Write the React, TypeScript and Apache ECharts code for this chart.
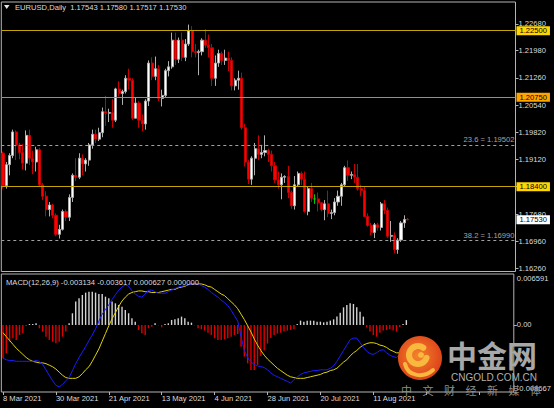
import React, { useEffect, useRef } from "react";
import * as echarts from "echarts";

// ---------- data ----------
const SYMBOL = "EURUSD,Daily";
const MONTHS = ["Jan", "Feb", "Mar", "Apr", "May", "Jun", "Jul", "Aug", "Sep", "Oct", "Nov", "Dec"];

const open = [
  1.1928, 1.1843, 1.1898, 1.1922, 1.1984, 1.195, 1.193, 1.1902, 1.1975, 1.1915,
  1.1905, 1.1937, 1.1845, 1.1815, 1.178, 1.1792, 1.1765, 1.1715, 1.1728, 1.1775,
  1.176, 1.1812, 1.187, 1.1865, 1.1915, 1.19, 1.191, 1.195, 1.1978, 1.1965,
  1.1982, 1.2037, 1.2033, 1.2035, 1.2015, 1.2097, 1.2085, 1.209, 1.2125, 1.212,
  1.202, 1.206, 1.2015, 1.2005, 1.2065, 1.2165, 1.213, 1.215, 1.2072, 1.208,
  1.2145, 1.2155, 1.2225, 1.2175, 1.2225, 1.218, 1.2215, 1.225, 1.2195, 1.2193,
  1.2195, 1.2225, 1.2212, 1.2205, 1.2125, 1.2165, 1.219, 1.2172, 1.2178, 1.2172,
  1.2105, 1.212, 1.2125, 1.1995, 1.1905, 1.186, 1.1915, 1.194, 1.1925, 1.193,
  1.1935, 1.1925, 1.1895, 1.1858, 1.1845, 1.1865, 1.1867, 1.1825, 1.179, 1.1845,
  1.1875, 1.186, 1.1775, 1.1835, 1.1808, 1.1808, 1.1798, 1.178, 1.1795, 1.177,
  1.1772, 1.18, 1.1815, 1.1845, 1.189, 1.187, 1.1872, 1.1865, 1.1835, 1.183,
  1.1762, 1.1738, 1.172, 1.174, 1.1733, 1.1795, 1.1778, 1.171, 1.1712, 1.1675,
  1.17, 1.1745, 1.17543,
];
const high = [
  1.1932, 1.1905, 1.1928, 1.199, 1.1988, 1.1955, 1.1952, 1.1988, 1.199, 1.1935,
  1.1945, 1.1942, 1.185, 1.1828, 1.18, 1.1795, 1.177, 1.174, 1.178, 1.178,
  1.182, 1.1875, 1.1915, 1.1928, 1.1925, 1.1915, 1.1955, 1.199, 1.199, 1.1995,
  1.2048, 1.2079, 1.2045, 1.207, 1.21, 1.2117, 1.2095, 1.2133, 1.215, 1.2125,
  1.2075, 1.2065, 1.203, 1.207, 1.2172, 1.218, 1.2182, 1.216, 1.2095, 1.215,
  1.217, 1.2245, 1.2245, 1.2232, 1.2245, 1.2228, 1.2266, 1.2262, 1.2215, 1.22,
  1.223, 1.2254, 1.224, 1.2215, 1.2185, 1.22, 1.2195, 1.22, 1.2195, 1.218,
  1.2125, 1.2145, 1.214, 1.2005, 1.191, 1.192, 1.1955, 1.1975, 1.195, 1.1975,
  1.194, 1.1935, 1.1905, 1.188, 1.1875, 1.187, 1.1895, 1.183, 1.1868, 1.188,
  1.188, 1.188, 1.184, 1.185, 1.182, 1.1825, 1.18, 1.1805, 1.183, 1.178,
  1.181, 1.183, 1.185, 1.1895, 1.1909, 1.188, 1.19, 1.19, 1.1845, 1.184,
  1.177, 1.1745, 1.1745, 1.1745, 1.18, 1.1805, 1.1785, 1.175, 1.172, 1.1705,
  1.175, 1.1765, 1.1758,
];
const low = [
  1.1835, 1.1835, 1.187, 1.1915, 1.191, 1.1912, 1.1885, 1.1883, 1.1897, 1.1873,
  1.188, 1.184, 1.1805, 1.1762, 1.1762, 1.1757, 1.171, 1.1704, 1.1725, 1.175,
  1.175, 1.18, 1.1855, 1.186, 1.187, 1.188, 1.1895, 1.194, 1.1955, 1.196,
  1.197, 1.2, 1.201, 1.1995, 1.201, 1.2077, 1.2055, 1.2085, 1.2095, 1.2015,
  1.202, 1.1995, 1.1986, 1.199, 1.2052, 1.212, 1.212, 1.2065, 1.2051, 1.2075,
  1.213, 1.215, 1.216, 1.2165, 1.217, 1.217, 1.221, 1.218, 1.218, 1.2133,
  1.2185, 1.2205, 1.218, 1.2105, 1.2105, 1.2155, 1.216, 1.216, 1.2144, 1.2093,
  1.2093, 1.2095, 1.199, 1.1893, 1.1847, 1.1845, 1.187, 1.191, 1.1915, 1.192,
  1.1905, 1.188, 1.185, 1.1835, 1.1807, 1.185, 1.181, 1.1782, 1.178, 1.184,
  1.1845, 1.1772, 1.1765, 1.18, 1.1795, 1.1775, 1.1775, 1.1752, 1.176, 1.1755,
  1.1765, 1.179, 1.179, 1.184, 1.1855, 1.186, 1.185, 1.183, 1.1815, 1.176,
  1.1735, 1.1712, 1.1705, 1.1725, 1.1725, 1.1768, 1.1705, 1.1695, 1.1665, 1.1664,
  1.1695, 1.1732, 1.17517,
];
const close = [
  1.1843, 1.1898, 1.1922, 1.1984, 1.195, 1.193, 1.1902, 1.1975, 1.1915, 1.1905,
  1.1937, 1.1845, 1.1815, 1.178, 1.1792, 1.1765, 1.1715, 1.1728, 1.1775, 1.176,
  1.1812, 1.187, 1.1865, 1.1915, 1.19, 1.191, 1.195, 1.1978, 1.1965, 1.1982,
  1.2037, 1.2033, 1.2035, 1.2015, 1.2097, 1.2085, 1.209, 1.2125, 1.212, 1.202,
  1.206, 1.2015, 1.2005, 1.2065, 1.2165, 1.213, 1.215, 1.2072, 1.208, 1.2145,
  1.2155, 1.2225, 1.2175, 1.2225, 1.218, 1.2215, 1.225, 1.2195, 1.2193, 1.2195,
  1.2225, 1.2212, 1.2205, 1.2125, 1.2165, 1.219, 1.2172, 1.2178, 1.2172, 1.2105,
  1.212, 1.2125, 1.1995, 1.1905, 1.186, 1.1915, 1.194, 1.1925, 1.193, 1.1935,
  1.1925, 1.1895, 1.1858, 1.1845, 1.1865, 1.1867, 1.1825, 1.179, 1.1845, 1.1875,
  1.186, 1.1775, 1.1835, 1.181, 1.1808, 1.1798, 1.178, 1.1795, 1.177, 1.1772,
  1.18, 1.1815, 1.1845, 1.189, 1.187, 1.1872, 1.1865, 1.1835, 1.183, 1.1762,
  1.1738, 1.172, 1.174, 1.1733, 1.1795, 1.1778, 1.171, 1.1712, 1.1675, 1.17,
  1.1745, 1.1754, 1.1753,
];
const dojiIndex = [94];

const macdMain = [
  -0.0043, -0.0045, -0.0046, -0.0046, -0.0047, -0.0047, -0.0047, -0.0047, -0.0047, -0.0047,
  -0.0046, -0.0047, -0.0051, -0.0058, -0.0065, -0.0072, -0.0078, -0.008, -0.0077, -0.0072,
  -0.0068, -0.0059, -0.005, -0.0042, -0.0035, -0.0028, -0.002, -0.0013, -0.0005, 0.0005,
  0.0014, 0.002, 0.0026, 0.0033, 0.0039, 0.0045, 0.0049, 0.0052, 0.005, 0.0044,
  0.004, 0.0037, 0.0036, 0.004, 0.0045, 0.0045, 0.0043, 0.0041, 0.0041, 0.0041,
  0.0043, 0.0045, 0.0047, 0.0049, 0.005, 0.0051, 0.0052, 0.0053, 0.0053, 0.0053,
  0.0051, 0.0049, 0.0046, 0.0042, 0.0039, 0.0036, 0.0032, 0.0029, 0.0025, 0.0019,
  0.0012, 0.0005, -0.0015, -0.0033, -0.0042, -0.0048, -0.0051, -0.0053, -0.0054, -0.0055,
  -0.0058, -0.0062, -0.0065, -0.0067, -0.0069, -0.0071, -0.0073, -0.0075, -0.0071, -0.0067,
  -0.0064, -0.0062, -0.0061, -0.006, -0.0059, -0.0059, -0.0058, -0.0058, -0.0058, -0.0056,
  -0.0053, -0.0047, -0.004, -0.0033, -0.0026, -0.0019, -0.0017, -0.0017, -0.0023, -0.0029,
  -0.0034, -0.0037, -0.0038, -0.0036, -0.0033, -0.0032, -0.0036, -0.0039, -0.0041, -0.0042,
  -0.0038, -0.0034, -0.003134,
];
const macdSignal = [
  -0.001, -0.0015, -0.002, -0.0025, -0.003, -0.0034, -0.0038, -0.0042, -0.0045, -0.0047,
  -0.0048, -0.0049, -0.0049, -0.005, -0.0052, -0.0054, -0.0057, -0.0061, -0.0065, -0.0068,
  -0.0069, -0.0069, -0.0069, -0.0067, -0.0063, -0.0058, -0.0054, -0.0047, -0.0039, -0.0031,
  -0.0021, -0.0011, -0.0001, 0.0008, 0.0016, 0.0024, 0.0031, 0.0036, 0.004, 0.0042,
  0.0043, 0.0044, 0.0044, 0.0043, 0.0043, 0.0042, 0.0042, 0.0042, 0.0043, 0.0044,
  0.0045, 0.0046, 0.0046, 0.0048, 0.0049, 0.005, 0.0052, 0.0053, 0.0053, 0.0053,
  0.0053, 0.0052, 0.005, 0.0049, 0.0046, 0.0043, 0.004, 0.0038, 0.0034, 0.003,
  0.0026, 0.0021, 0.0014, 0.0007, -0.0001, -0.0009, -0.0018, -0.0026, -0.0033, -0.0039,
  -0.0044, -0.0048, -0.0052, -0.0056, -0.0059, -0.0062, -0.0065, -0.0067, -0.0068, -0.0069,
  -0.0069, -0.0069, -0.0068, -0.0067, -0.0066, -0.0065, -0.0064, -0.0062, -0.0061, -0.0059,
  -0.0058, -0.0056, -0.0052, -0.0048, -0.0045, -0.004, -0.0036, -0.0033, -0.0029, -0.0026,
  -0.0024, -0.0023, -0.0023, -0.0024, -0.0026, -0.0027, -0.0029, -0.0032, -0.0034, -0.0036,
  -0.0036, -0.0036, -0.003617,
];
const macdHist = [
  -0.00431, -0.00366, -0.00216, -0.00172, -0.00194, -0.00129, -0.00108, -0.00013, 0.00013, 0.00013,
  0.00022, -0.00043, -0.00086, -0.00151, -0.00194, -0.00216, -0.00237, -0.00216, -0.00151, -0.00086,
  0.00022, 0.00151, 0.00302, 0.00345, 0.00388, 0.00418, 0.00431, 0.00431, 0.00418, 0.00401,
  0.00401, 0.00366, 0.00345, 0.00302, 0.0028, 0.00259, 0.00237, 0.00194, 0.00151, 0.00086,
  0.00043, -0.00065, -0.00108, -0.00129, -0.00043, -0.00022, 0.00022, -0.00005, -0.0003, 0.00013,
  0.00022, 0.00065, 0.00073, 0.00086, 0.00108, 0.00086, 0.00043, 0.0003, -0.00004, -0.00043,
  -0.00056, -0.00073, -0.00099, -0.00129, -0.00172, -0.00194, -0.00194, -0.00185, -0.00172, -0.00151,
  -0.00129, -0.00116, -0.0028, -0.00409, -0.00496, -0.00582, -0.00582, -0.00517, -0.004, -0.0033,
  -0.0024, -0.0017, -0.0013, -0.0011, -0.00099, -0.00086, -0.00073, -0.00065, -0.00056, 0.00013,
  0.00056, 0.00043, 0.00056, 0.00056, 0.00056, 0.00043, 0.00043, 0.00034, 0.00043, 0.00056,
  0.00073, 0.00108, 0.00159, 0.00228, 0.00259, 0.0028, 0.00272, 0.00228, 0.00172, 0.00108,
  -0.0003, -0.00086, -0.00129, -0.00151, -0.00099, -0.00073, -0.00065, -0.00056, -0.00073, -0.00086,
  -0.0003, 0.00013, 0.000627,
];
const macdExtra = 0.0;

const priceTicks = [1.1626, 1.1696, 1.1768, 1.184, 1.1912, 1.1982, 1.2054, 1.2126, 1.2198, 1.2268];
const priceMin = 1.16173;
const priceMax = 1.23254;
const macdMin = -0.008667;
const macdMax = 0.006591;
const keyLevels = [1.225, 1.2075, 1.184];
const fibLevels = [1.19502, 1.1699];
const fibNames = ["23.6", "38.2"];
const wmChars = ["中", "文", "财", "经", "新", "媒", "体"];

const TOTAL_SLOTS = 155;
const LABEL_STEP = 16;
const LAST = open.length - 1;

function tradingDays(count: number): string[] {
  const out: string[] = [];
  const d = new Date(Date.UTC(2021, 2, 8));
  while (out.length < count) {
    const wd = d.getUTCDay();
    if (wd !== 0 && wd !== 6) {
      out.push(`${d.getUTCDate()} ${MONTHS[d.getUTCMonth()]} ${d.getUTCFullYear()}`);
    }
    d.setUTCDate(d.getUTCDate() + 1);
  }
  return out;
}
const categories = tradingDays(TOTAL_SLOTS);

// ---------- styles ----------
const FONT = "Liberation Sans";
const FS = 7.6;
const TXT = "#dcdcdc";
const FRAME = "#b4b4b4";
const levelLine = ["#c4a400", "#cf8a0c", "#c4a400"];
const levelBox = ["#ffd700", "#ffa500", "#ffd700"];

function buildOption(): any {
  const candleData = open.map((o, i) => {
    const v = [o, close[i], low[i], high[i]];
    if (dojiIndex.includes(i)) {
      return { value: v, itemStyle: { color: "#00d000", color0: "#00d000", borderColor: "#00d000", borderColor0: "#00d000" } };
    }
    return v;
  });

  const markData: any[] = [];
  keyLevels.forEach((lv, k) => {
    markData.push({
      yAxis: lv,
      lineStyle: { color: levelLine[k], type: "solid", width: 1 },
      label: {
        show: true,
        position: "end",
        distance: 1,
        formatter: () => lv.toFixed(5),
        backgroundColor: levelBox[k],
        color: "#000",
        padding: [1, 3, 0, 3],
        fontSize: FS,
        fontFamily: FONT,
      },
    });
  });
  fibLevels.forEach((lv, k) => {
    markData.push({
      yAxis: lv,
      lineStyle: { color: "#a0a0a0", type: [3, 3], width: 1 },
      label: {
        show: true,
        position: "insideEndTop",
        distance: 1,
        formatter: () => `${fibNames[k]} = ${lv.toFixed(5)}`,
        color: "#a4a4a4",
        fontSize: FS,
        fontFamily: FONT,
      },
    });
  });
  markData.push({
    yAxis: close[LAST],
    lineStyle: { color: "rgba(0,0,0,0)", width: 0 },
    label: {
      show: true,
      position: "end",
      distance: 1,
      formatter: () => close[LAST].toFixed(5),
      backgroundColor: "#ffffff",
      color: "#000",
      padding: [1, 3, 0, 3],
      fontSize: FS,
      fontFamily: FONT,
    },
  });

  const titleText = `${SYMBOL}  ${[open, high, low, close].map((a) => a[LAST].toFixed(5)).join(" ")}`;
  const macdText = `MACD(12,26,9) ${macdMain[LAST].toFixed(6)} ${macdSignal[LAST].toFixed(6)} ${macdHist[LAST].toFixed(6)} ${macdExtra.toFixed(6)}`;

  const graphic: any[] = [
    { type: "polygon", z: 100, shape: { points: [[4, 5], [9.5, 5], [6.75, 9]] }, style: { fill: "#e6e6e6" } },
    { type: "text", z: 100, x: 15, y: 7.5, style: { text: titleText, fill: TXT, fontSize: FS, fontFamily: FONT, verticalAlign: "middle" } },
    { type: "text", z: 100, x: 6, y: 282, style: { text: macdText, fill: TXT, fontSize: FS, fontFamily: FONT, verticalAlign: "middle" } },
    // watermark logo
    {
      type: "circle", z: 100, shape: { cx: 420, cy: 358, r: 22 },
      style: {
        fill: new echarts.graphic.RadialGradient(0.45, 0.45, 0.6, [
          { offset: 0, color: "#f3832c" },
          { offset: 1, color: "#dc3f18" },
        ]),
      },
    },
    {
      type: "arc", z: 101, shape: { cx: 418, cy: 355, r: 9, startAngle: Math.PI * 0.1, endAngle: -Math.PI * 0.3, clockwise: true },
      style: { stroke: "#f9b83e", lineWidth: 6, fill: "none", lineCap: "round" },
    },
    { type: "circle", z: 101, shape: { cx: 421, cy: 355, r: 3 }, style: { fill: "#f9b83e" } },
    {
      type: "bezierCurve", z: 101,
      shape: { x1: 405, y1: 364, cpx1: 408, cpy1: 377, cpx2: 424, cpy2: 378, x2: 433, y2: 370 },
      style: { stroke: "#f9b83e", lineWidth: 4, fill: "none", lineCap: "round" },
    },
    {
      type: "text", z: 100, x: 447, y: 354,
      style: { text: "中金网", fill: "#a8a8a8", fontSize: 30, fontWeight: "bold", fontFamily: "Noto Sans CJK SC", verticalAlign: "middle" },
    },
    {
      type: "text", z: 100, x: 494, y: 377,
      style: { text: "CNGOLD.COM.CN", fill: "#b0b0b0", fontSize: 10, fontFamily: FONT, align: "center", verticalAlign: "middle" },
    },
    ...wmChars.map((c, k) => ({
      type: "text", z: 100, x: 401 + k * 21.5, y: 389.5,
      style: { text: c, fill: "#8e8e8e", fontSize: 11, fontFamily: "Noto Sans CJK SC", verticalAlign: "middle" },
    })),
  ];

  const gridBase = { left: 1.3, width: 514.2, show: true, borderColor: FRAME, borderWidth: 1, backgroundColor: "transparent" };

  return {
    animation: false,
    backgroundColor: "#000000",
    textStyle: { fontFamily: FONT },
    grid: [
      { ...gridBase, top: 2, height: 269.5 },
      { ...gridBase, top: 274, height: 118 },
    ],
    xAxis: [
      {
        type: "category", gridIndex: 0, data: categories, boundaryGap: true, position: "bottom",
        axisLine: { show: false, onZero: false }, axisTick: { show: false }, axisLabel: { show: false }, splitLine: { show: false },
      },
      {
        type: "category", gridIndex: 1, data: categories, boundaryGap: true, position: "bottom",
        axisLine: { show: false, onZero: false },
        axisTick: { show: true, interval: LABEL_STEP - 1, alignWithLabel: true, length: 3, lineStyle: { color: FRAME } },
        axisLabel: {
          interval: LABEL_STEP - 1, align: "left", margin: 2, color: TXT, fontSize: FS, fontFamily: FONT,
          formatter: (v: string, i: number) => (i <= LAST ? v : ""),
        },
        splitLine: { show: false },
      },
    ],
    yAxis: [
      {
        type: "value", gridIndex: 0, position: "right", min: priceMin, max: priceMax,
        axisLine: { show: false }, splitLine: { show: false },
        axisTick: { show: true, length: 3, customValues: priceTicks, lineStyle: { color: FRAME } },
        axisLabel: { customValues: priceTicks, formatter: (v: number) => v.toFixed(5), color: TXT, fontSize: FS, fontFamily: FONT, margin: 3 },
      },
      {
        type: "value", gridIndex: 1, position: "right", min: macdMin, max: macdMax,
        axisLine: { show: false }, splitLine: { show: false },
        axisTick: { show: true, length: 3, customValues: [0], lineStyle: { color: FRAME } },
        axisLabel: { customValues: [0], formatter: () => "0.00", color: TXT, fontSize: FS, fontFamily: FONT, margin: 3 },
      },
      {
        type: "value", gridIndex: 1, position: "right", min: macdMin, max: macdMax,
        axisLine: { show: false }, splitLine: { show: false },
        axisTick: { show: false },
        axisLabel: { customValues: [macdMax], formatter: (v: number) => v.toFixed(6), color: TXT, fontSize: FS, fontFamily: FONT, margin: 3, verticalAlign: "top" },
      },
      {
        type: "value", gridIndex: 1, position: "right", min: macdMin, max: macdMax,
        axisLine: { show: false }, splitLine: { show: false },
        axisTick: { show: false },
        axisLabel: { customValues: [macdMin], formatter: (v: number) => v.toFixed(6), color: TXT, fontSize: FS, fontFamily: FONT, margin: 3, verticalAlign: "bottom" },
      },
    ],
    series: [
      {
        type: "candlestick", xAxisIndex: 0, yAxisIndex: 0, data: candleData, barWidth: 2.6,
        itemStyle: { color: "#ffffff", color0: "#ff0000", borderColor: "#b0b0b0", borderColor0: "#c80000", borderWidth: 1 },
        markLine: { silent: true, symbol: ["none", "none"], precision: 5, animation: false, data: markData },
      },
      {
        type: "bar", xAxisIndex: 1, yAxisIndex: 1, data: macdHist, barWidth: 1.4,
        itemStyle: { color: (p: any) => (p.value >= 0 ? "#d4d4d4" : "#e00000") },
      },
      {
        type: "line", xAxisIndex: 1, yAxisIndex: 1, data: macdSignal, showSymbol: false, symbol: "none",
        lineStyle: { color: "#e0d400", width: 1 },
      },
      {
        type: "line", xAxisIndex: 1, yAxisIndex: 1, data: macdMain, showSymbol: false, symbol: "none",
        lineStyle: { color: "#1c1cff", width: 1 },
      },
    ],
    graphic,
  };
}

export default function App() {
  const ref = useRef<HTMLDivElement>(null);
  useEffect(() => {
    if (!ref.current) return;
    const chart = echarts.init(ref.current, null, { renderer: "svg" });
    chart.setOption(buildOption());
    return () => chart.dispose();
  }, []);
  return (
    <div style={{ position: "fixed", left: 0, top: 0, width: 554, height: 408, background: "#000" }}>
      <div ref={ref} style={{ width: 554, height: 408 }} />
    </div>
  );
}
